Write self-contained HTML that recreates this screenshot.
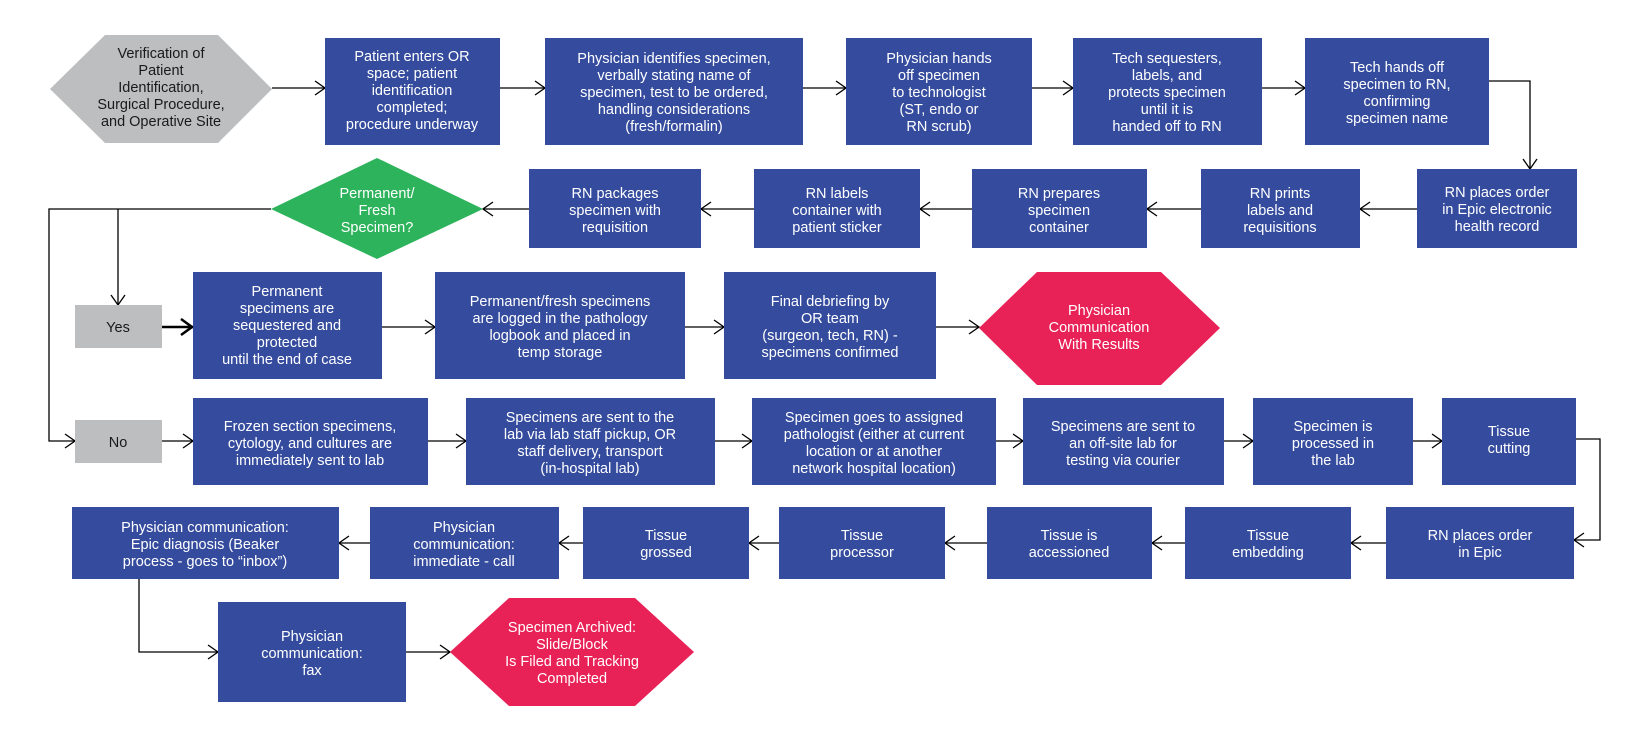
<!DOCTYPE html>
<html><head><meta charset="utf-8"><style>
html,body{margin:0;padding:0;background:#fff;}
svg{display:block;}
text{font-family:"Liberation Sans",sans-serif;font-size:14.5px;fill:#fff;text-anchor:middle;}
.d{fill:#1a1a1a;}
.b{fill:#354c9e;}
line,polyline.c{stroke:#000;stroke-width:1.3;fill:none;}
</style></head><body>
<svg width="1651" height="741" viewBox="0 0 1651 741" xmlns="http://www.w3.org/2000/svg">
<defs>
<marker id="a" viewBox="0 0 12 16" refX="11" refY="8" markerWidth="12" markerHeight="16" markerUnits="userSpaceOnUse" orient="auto">
<polyline points="1,1 11,8 1,15" fill="none" stroke="#000" stroke-width="1.3"/></marker>
<marker id="t" viewBox="0 0 14 18" refX="13" refY="9" markerWidth="14" markerHeight="18" markerUnits="userSpaceOnUse" orient="auto">
<polyline points="1,1 12,9 1,17" fill="none" stroke="#000" stroke-width="2.5"/></marker>
</defs>

<!-- connectors -->
<g>
<line x1="272" y1="88" x2="325" y2="88" marker-end="url(#a)"/>
<line x1="500" y1="88" x2="545" y2="88" marker-end="url(#a)"/>
<line x1="803" y1="88" x2="846" y2="88" marker-end="url(#a)"/>
<line x1="1032" y1="88" x2="1073" y2="88" marker-end="url(#a)"/>
<line x1="1262" y1="88" x2="1305" y2="88" marker-end="url(#a)"/>
<polyline class="c" points="1489,81 1530,81 1530,169" marker-end="url(#a)"/>
<line x1="1417" y1="209" x2="1360" y2="209" marker-end="url(#a)"/>
<line x1="1201" y1="209" x2="1147" y2="209" marker-end="url(#a)"/>
<line x1="972" y1="209" x2="920" y2="209" marker-end="url(#a)"/>
<line x1="754" y1="209" x2="701" y2="209" marker-end="url(#a)"/>
<line x1="529" y1="209" x2="483" y2="209" marker-end="url(#a)"/>
<polyline class="c" points="271,209 49,209 49,441 75,441" marker-end="url(#a)"/>
<line x1="118" y1="209" x2="118" y2="305" marker-end="url(#a)"/>
<line x1="161" y1="327" x2="193" y2="327" marker-end="url(#t)" style="stroke-width:2.5"/>
<line x1="382" y1="327" x2="435" y2="327" marker-end="url(#a)"/>
<line x1="685" y1="327" x2="724" y2="327" marker-end="url(#a)"/>
<line x1="936" y1="327" x2="979" y2="327" marker-end="url(#a)"/>
<line x1="161" y1="441" x2="193" y2="441" marker-end="url(#a)"/>
<line x1="428" y1="441" x2="466" y2="441" marker-end="url(#a)"/>
<line x1="715" y1="441" x2="752" y2="441" marker-end="url(#a)"/>
<line x1="996" y1="441" x2="1023" y2="441" marker-end="url(#a)"/>
<line x1="1224" y1="441" x2="1253" y2="441" marker-end="url(#a)"/>
<line x1="1413" y1="441" x2="1442" y2="441" marker-end="url(#a)"/>
<polyline class="c" points="1576,439 1600,439 1600,540 1574,540" marker-end="url(#a)"/>
<line x1="1386" y1="543" x2="1351" y2="543" marker-end="url(#a)"/>
<line x1="1185" y1="543" x2="1152" y2="543" marker-end="url(#a)"/>
<line x1="987" y1="543" x2="945" y2="543" marker-end="url(#a)"/>
<line x1="779" y1="543" x2="749" y2="543" marker-end="url(#a)"/>
<line x1="583" y1="543" x2="559" y2="543" marker-end="url(#a)"/>
<line x1="370" y1="543" x2="339" y2="543" marker-end="url(#a)"/>
<polyline class="c" points="139,579 139,652 218,652" marker-end="url(#a)"/>
<line x1="406" y1="652" x2="450" y2="652" marker-end="url(#a)"/>
</g>

<!-- shapes -->
<polygon points="50,89 105,35 218,35 272,89 218,143 105,143" fill="#bcbec0"/>
<polygon points="377,158 483,209 377,259 271,209" fill="#2db35b"/>
<polygon points="979,328 1037,272 1161,272 1220,328 1161,385 1037,385" fill="#e82257"/>
<polygon points="450,652 509,598 635,598 694,652 635,706 509,706" fill="#e82257"/>
<rect x="75" y="305" width="87" height="43" fill="#bcbec0"/>
<rect x="75" y="420" width="87" height="43" fill="#bcbec0"/>
<g class="b">
<rect x="325" y="38" width="175" height="107"/>
<rect x="545" y="38" width="258" height="107"/>
<rect x="846" y="38" width="186" height="107"/>
<rect x="1073" y="38" width="189" height="107"/>
<rect x="1305" y="38" width="184" height="107"/>
<rect x="1417" y="169" width="160" height="79"/>
<rect x="1201" y="169" width="159" height="79"/>
<rect x="972" y="169" width="175" height="79"/>
<rect x="754" y="169" width="166" height="79"/>
<rect x="529" y="169" width="172" height="79"/>
<rect x="193" y="272" width="189" height="107"/>
<rect x="435" y="272" width="250" height="107"/>
<rect x="724" y="272" width="212" height="107"/>
<rect x="193" y="398" width="235" height="87"/>
<rect x="466" y="398" width="249" height="87"/>
<rect x="752" y="398" width="244" height="87"/>
<rect x="1023" y="398" width="201" height="87"/>
<rect x="1253" y="398" width="160" height="87"/>
<rect x="1442" y="398" width="134" height="87"/>
<rect x="1386" y="507" width="188" height="72"/>
<rect x="1185" y="507" width="166" height="72"/>
<rect x="987" y="507" width="165" height="72"/>
<rect x="779" y="507" width="166" height="72"/>
<rect x="583" y="507" width="166" height="72"/>
<rect x="370" y="507" width="189" height="72"/>
<rect x="72" y="507" width="267" height="72"/>
<rect x="218" y="602" width="188" height="100"/>
</g>

<!-- text -->
<text class="d" x="161"><tspan x="161" y="58">Verification of</tspan><tspan x="161" y="75">Patient</tspan><tspan x="161" y="92">Identification,</tspan><tspan x="161" y="109">Surgical Procedure,</tspan><tspan x="161" y="126">and Operative Site</tspan></text>
<text><tspan x="412" y="61">Patient enters OR</tspan><tspan x="412" y="78">space; patient</tspan><tspan x="412" y="95">identification</tspan><tspan x="412" y="112">completed;</tspan><tspan x="412" y="129">procedure underway</tspan></text>
<text><tspan x="674" y="63">Physician identifies specimen,</tspan><tspan x="674" y="80">verbally stating name of</tspan><tspan x="674" y="97">specimen, test to be ordered,</tspan><tspan x="674" y="114">handling considerations</tspan><tspan x="674" y="131">(fresh/formalin)</tspan></text>
<text><tspan x="939" y="63">Physician hands</tspan><tspan x="939" y="80">off specimen</tspan><tspan x="939" y="97">to technologist</tspan><tspan x="939" y="114">(ST, endo or</tspan><tspan x="939" y="131">RN scrub)</tspan></text>
<text><tspan x="1167" y="63">Tech sequesters,</tspan><tspan x="1167" y="80">labels, and</tspan><tspan x="1167" y="97">protects specimen</tspan><tspan x="1167" y="114">until it is</tspan><tspan x="1167" y="131">handed off to RN</tspan></text>
<text><tspan x="1397" y="72">Tech hands off</tspan><tspan x="1397" y="89">specimen to RN,</tspan><tspan x="1397" y="106">confirming</tspan><tspan x="1397" y="123">specimen name</tspan></text>
<text><tspan x="1497" y="197">RN places order</tspan><tspan x="1497" y="214">in Epic electronic</tspan><tspan x="1497" y="231">health record</tspan></text>
<text><tspan x="1280" y="198">RN prints</tspan><tspan x="1280" y="215">labels and</tspan><tspan x="1280" y="232">requisitions</tspan></text>
<text><tspan x="1059" y="198">RN prepares</tspan><tspan x="1059" y="215">specimen</tspan><tspan x="1059" y="232">container</tspan></text>
<text><tspan x="837" y="198">RN labels</tspan><tspan x="837" y="215">container with</tspan><tspan x="837" y="232">patient sticker</tspan></text>
<text><tspan x="615" y="198">RN packages</tspan><tspan x="615" y="215">specimen with</tspan><tspan x="615" y="232">requisition</tspan></text>
<text><tspan x="377" y="198">Permanent/</tspan><tspan x="377" y="215">Fresh</tspan><tspan x="377" y="232">Specimen?</tspan></text>
<text class="d" x="118" y="332">Yes</text>
<text class="d" x="118" y="447">No</text>
<text><tspan x="287" y="296">Permanent</tspan><tspan x="287" y="313">specimens are</tspan><tspan x="287" y="330">sequestered and</tspan><tspan x="287" y="347">protected</tspan><tspan x="287" y="364">until the end of case</tspan></text>
<text><tspan x="560" y="306">Permanent/fresh specimens</tspan><tspan x="560" y="323">are logged in the pathology</tspan><tspan x="560" y="340">logbook and placed in</tspan><tspan x="560" y="357">temp storage</tspan></text>
<text><tspan x="830" y="306">Final debriefing by</tspan><tspan x="830" y="323">OR team</tspan><tspan x="830" y="340">(surgeon, tech, RN) -</tspan><tspan x="830" y="357">specimens confirmed</tspan></text>
<text><tspan x="1099" y="315">Physician</tspan><tspan x="1099" y="332">Communication</tspan><tspan x="1099" y="349">With Results</tspan></text>
<text><tspan x="310" y="431">Frozen section specimens,</tspan><tspan x="310" y="448">cytology, and cultures are</tspan><tspan x="310" y="465">immediately sent to lab</tspan></text>
<text><tspan x="590" y="422">Specimens are sent to the</tspan><tspan x="590" y="439">lab via lab staff pickup, OR</tspan><tspan x="590" y="456">staff delivery, transport</tspan><tspan x="590" y="473">(in-hospital lab)</tspan></text>
<text><tspan x="874" y="422">Specimen goes to assigned</tspan><tspan x="874" y="439">pathologist (either at current</tspan><tspan x="874" y="456">location or at another</tspan><tspan x="874" y="473">network hospital location)</tspan></text>
<text><tspan x="1123" y="431">Specimens are sent to</tspan><tspan x="1123" y="448">an off-site lab for</tspan><tspan x="1123" y="465">testing via courier</tspan></text>
<text><tspan x="1333" y="431">Specimen is</tspan><tspan x="1333" y="448">processed in</tspan><tspan x="1333" y="465">the lab</tspan></text>
<text><tspan x="1509" y="436">Tissue</tspan><tspan x="1509" y="453">cutting</tspan></text>
<text><tspan x="1480" y="540">RN places order</tspan><tspan x="1480" y="557">in Epic</tspan></text>
<text><tspan x="1268" y="540">Tissue</tspan><tspan x="1268" y="557">embedding</tspan></text>
<text><tspan x="1069" y="540">Tissue is</tspan><tspan x="1069" y="557">accessioned</tspan></text>
<text><tspan x="862" y="540">Tissue</tspan><tspan x="862" y="557">processor</tspan></text>
<text><tspan x="666" y="540">Tissue</tspan><tspan x="666" y="557">grossed</tspan></text>
<text><tspan x="464" y="532">Physician</tspan><tspan x="464" y="549">communication:</tspan><tspan x="464" y="566">immediate - call</tspan></text>
<text><tspan x="205" y="532">Physician communication:</tspan><tspan x="205" y="549">Epic diagnosis (Beaker</tspan><tspan x="205" y="566">process - goes to “inbox”)</tspan></text>
<text><tspan x="312" y="641">Physician</tspan><tspan x="312" y="658">communication:</tspan><tspan x="312" y="675">fax</tspan></text>
<text><tspan x="572" y="632">Specimen Archived:</tspan><tspan x="572" y="649">Slide/Block</tspan><tspan x="572" y="666">Is Filed and Tracking</tspan><tspan x="572" y="683">Completed</tspan></text>
</svg>
</body></html>
